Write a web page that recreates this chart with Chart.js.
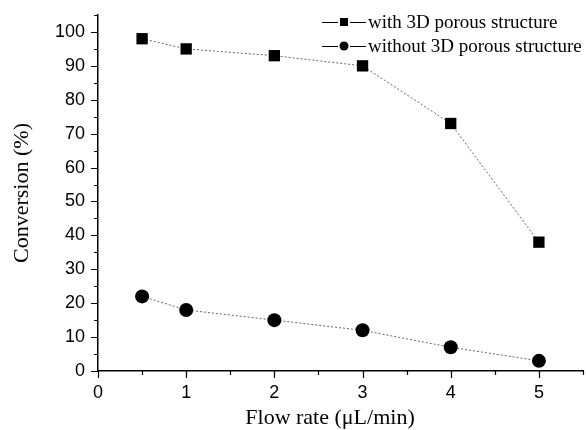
<!DOCTYPE html>
<html>
<head>
<meta charset="utf-8">
<script src="https://cdn.jsdelivr.net/npm/chart.js@4/dist/chart.umd.min.js"></script>
<style>
  body { margin: 0; background: #fff; }
  #wrap { width: 586px; height: 430px; }
</style>
</head>
<body>
<div id="wrap"><canvas id="myChart" width="586" height="430"></canvas></div>
<script>
// data
var flowRates = [0.5, 1, 2, 3, 4, 5];
var withPorous = [98, 95, 93, 90, 73, 38];
var withoutPorous = [22, 18, 15, 12, 7, 3];
var seriesLabels = ['with 3D porous structure', 'without 3D porous structure'];
var xTitle = 'Flow rate (\u03bcL/min)';
var yTitle = 'Conversion (%)';

function toPoints(xs, ys) {
    return xs.map(function (x, i) { return { x: x, y: ys[i] }; });
}

// ticks: long ones at labels, short ones in between
var tickPlugin = {
    id: 'originTicks',
    afterDraw: function (chart) {
        var ctx = chart.ctx;
        var xs = chart.scales.x, ys = chart.scales.y;
        var area = chart.chartArea;
        ctx.save();
        ctx.strokeStyle = '#000';
        ctx.lineWidth = 1.2;
        ctx.beginPath();
        for (var v = 0; v <= 5.5001; v += 0.5) {
            var px = Math.round(xs.getPixelForValue(v)) + 0.5;
            var len = (Math.abs(v - Math.round(v)) < 0.01) ? 7 : 4;
            ctx.moveTo(px, area.bottom);
            ctx.lineTo(px, area.bottom + len);
        }
        for (var w = 0; w <= 105; w += 5) {
            var py = Math.round(ys.getPixelForValue(w)) + 0.5;
            var l = (w % 10 === 0) ? 7 : 4;
            ctx.moveTo(area.left, py);
            ctx.lineTo(area.left - l, py);
        }
        ctx.stroke();

        // x axis title, sits a bit left of the plot centre in the original
        ctx.font = '22px "Liberation Serif", "Times New Roman", serif';
        ctx.fillStyle = '#000';
        ctx.textAlign = 'center';
        ctx.textBaseline = 'alphabetic';
        ctx.fillText(xTitle, 330, 424);
        ctx.restore();
    }
};

// legend like the original: line - marker - line, then text
var legendPlugin = {
    id: 'lineLegend',
    afterDraw: function (chart) {
        var ctx = chart.ctx;
        var x0 = 322, x1 = 366, tx = 368;
        var rows = [22, 46];
        ctx.save();
        ctx.font = '19px "Liberation Serif", "Times New Roman", serif';
        ctx.textBaseline = 'middle';
        ctx.fillStyle = '#000';
        chart.data.datasets.forEach(function (ds, i) {
            var y = rows[i];
            ctx.strokeStyle = '#000';
            ctx.lineWidth = 1;
            ctx.beginPath();
            ctx.moveTo(x0, y + 0.5);
            ctx.lineTo(x1, y + 0.5);
            ctx.stroke();
            var mx = (x0 + x1) / 2;
            ctx.fillStyle = '#fff';
            ctx.fillRect(mx - 6, y - 5, 12, 11);
            ctx.fillStyle = '#000';
            if (ds.pointStyle === 'rect') {
                ctx.fillRect(mx - 4, y - 4, 8, 8);
            } else {
                ctx.beginPath();
                ctx.arc(mx, y, 4.5, 0, Math.PI * 2);
                ctx.fill();
            }
            ctx.fillText(ds.label, tx, y + 1);
        });
        ctx.restore();
    }
};

var ctx = document.getElementById('myChart').getContext('2d');

var myChart = new Chart(ctx, {
    type: 'scatter',
    data: {
        datasets: [{
            label: seriesLabels[0],
            data: toPoints(flowRates, withPorous),
            showLine: true,
            borderColor: '#666',
            borderWidth: 1,
            borderDash: [2, 2],
            pointStyle: 'rect',
            pointRadius: 8,
            pointBackgroundColor: '#000',
            pointBorderColor: '#000',
            pointBorderWidth: 0
        }, {
            label: seriesLabels[1],
            data: toPoints(flowRates, withoutPorous),
            showLine: true,
            borderColor: '#666',
            borderWidth: 1,
            borderDash: [2, 2],
            pointStyle: 'circle',
            pointRadius: 7,
            pointBackgroundColor: '#000',
            pointBorderColor: '#000',
            pointBorderWidth: 0
        }]
    },
    options: {
        responsive: false,
        animation: false,
        layout: { autoPadding: false, padding: { left: 0, right: 3, top: 15, bottom: 0 } },
        plugins: {
            legend: { display: false },
            tooltip: { enabled: false }
        },
        scales: {
            x: {
                type: 'linear',
                min: 0,
                max: 5.5,
                afterFit: function (s) { s.height = 59; s.paddingLeft = 0; s.paddingRight = 0; },
                border: { display: true, color: '#000', width: 1.5 },
                grid: { drawOnChartArea: false, color: 'rgba(0,0,0,0)', tickLength: 7 },
                ticks: {
                    stepSize: 0.5,
                    padding: 4,
                    color: '#000',
                    font: { family: '"Liberation Sans", Arial, sans-serif', size: 18 },
                    callback: function (v) { return Number.isInteger(v) ? v : ''; }
                },
                title: { display: false }
            },
            y: {
                min: 0,
                max: 105,
                afterFit: function (s) { s.width = 98; s.paddingTop = 0; s.paddingBottom = 0; },
                border: { display: true, color: '#000', width: 1.5 },
                grid: { drawOnChartArea: false, color: 'rgba(0,0,0,0)', tickLength: 7 },
                ticks: {
                    stepSize: 5,
                    padding: 6,
                    color: '#000',
                    font: { family: '"Liberation Sans", Arial, sans-serif', size: 18 },
                    callback: function (v) { return v % 10 === 0 ? v : ''; }
                },
                title: {
                    display: true,
                    text: yTitle,
                    color: '#000',
                    font: { family: '"Liberation Serif", "Times New Roman", serif', size: 22 },
                    padding: { top: 9, bottom: 0 }
                }
            }
        }
    },
    plugins: [tickPlugin, legendPlugin]
});
</script>
</body>
</html>
